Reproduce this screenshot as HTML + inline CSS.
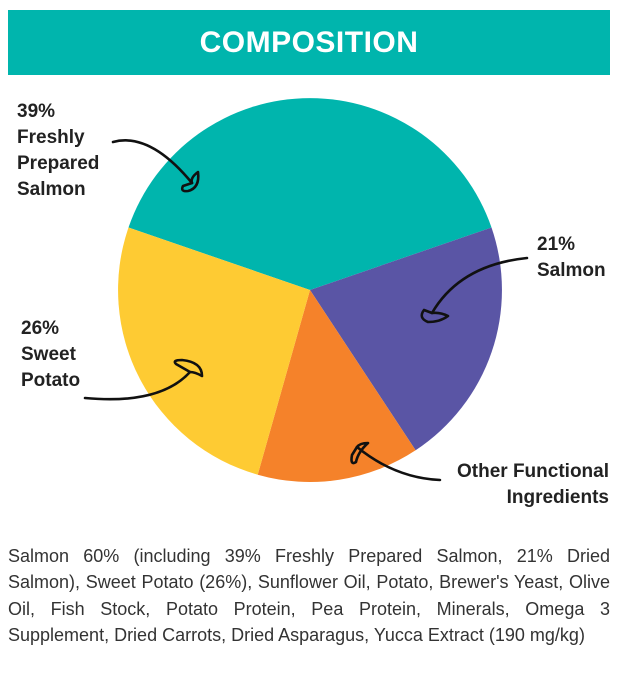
<!DOCTYPE html>
<html><head><style>
body{margin:0;width:628px;height:676px;background:#fff;font-family:"Liberation Sans",sans-serif;position:relative;overflow:hidden}
.hdr{position:absolute;left:8px;top:10px;width:602px;height:65px;background:#00b5ad;color:#fff;font-size:30px;font-weight:bold;text-align:center;line-height:65px;letter-spacing:0.5px}
.lbl{position:absolute;font-weight:bold;font-size:19px;line-height:26px;color:#222}
.txt{position:absolute;left:8px;top:543px;width:602px;font-size:18px;line-height:26.3px;color:#333;text-align:justify}
</style></head><body>
<div class="hdr">COMPOSITION</div>
<svg width="628" height="676" style="position:absolute;left:0;top:0">
<path d="M310 290 L128.5 227.5 A192 192 0 0 1 491.5 227.5 Z" fill="#00b5ad"/>
<path d="M310 290 L491.5 227.5 A192 192 0 0 1 415.6 450.3 Z" fill="#5a55a5"/>
<path d="M310 290 L415.6 450.3 A192 192 0 0 1 257.7 474.7 Z" fill="#f5822a"/>
<path d="M310 290 L257.7 474.7 A192 192 0 0 1 128.5 227.5 Z" fill="#fecb33"/>
<g fill="none" stroke="#111" stroke-width="2.6" stroke-linecap="round" stroke-linejoin="round">
<path d="M113 142 Q150 132 192 183"/>
<path d="M192 183 L183 186 Q180 192 188 191 Q200 188 198 172 Q190 178 192 183"/>
<path d="M527 258 Q460 265 432 313"/>
<path d="M432 313 L424 310 Q418 318 428 322 Q440 322 448 316 Q440 312 432 313"/>
<path d="M85 398 Q160 405 190 372"/>
<path d="M190 372 L176 364 Q172 360 182 360 Q202 362 202 376 Q195 372 190 372"/>
<path d="M440 480 Q395 478 357 447"/>
<path d="M357 447 L352 455 Q350 466 356 462 Q358 452 368 443 Q360 443 357 447"/>
</g>
</svg>
<div class="lbl" style="left:17px;top:99px">39%<br>Freshly<br>Prepared<br>Salmon</div>
<div class="lbl" style="left:537px;top:232px">21%<br>Salmon</div>
<div class="lbl" style="left:21px;top:316px">26%<br>Sweet<br>Potato</div>
<div class="lbl" style="left:400px;top:459px;text-align:right;width:209px">Other Functional<br>Ingredients</div>
<div class="txt">Salmon 60% (including 39% Freshly Prepared Salmon, 21% Dried Salmon), Sweet Potato (26%), Sunflower Oil, Potato, Brewer's Yeast, Olive Oil, Fish Stock, Potato Protein, Pea Protein, Minerals, Omega 3 Supplement, Dried Carrots, Dried Asparagus, Yucca Extract (190 mg/kg)</div>
</body></html>
